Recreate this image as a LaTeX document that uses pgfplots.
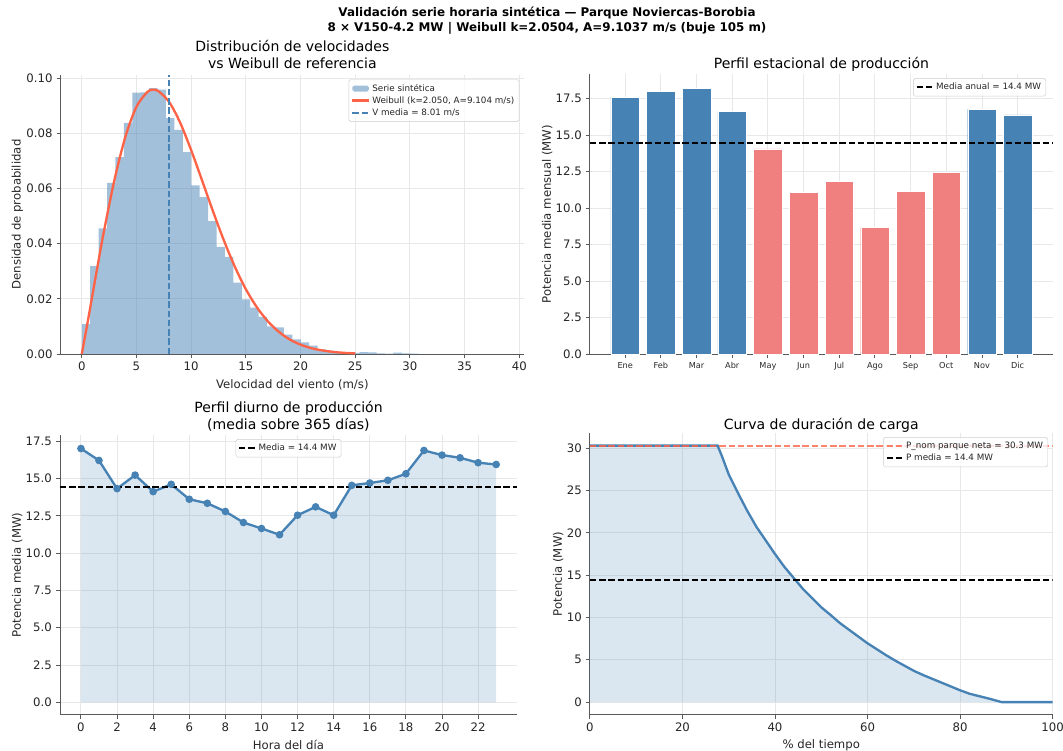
\documentclass[border=0pt]{standalone}
\usepackage{pgfplots}
\pgfplotsset{compat=1.18}
\usepackage{pgfplotstable}
\usepackage{fontspec}
\setmainfont{DejaVu Sans}

\definecolor{steel}{HTML}{4682B4}
\definecolor{lcoral}{HTML}{F08080}
\definecolor{tomatoc}{HTML}{FF6347}
\definecolor{txt}{HTML}{262626}

% histogram: left bin edges (width 0.77) and densities
\pgfplotstableread{
x y
0.00 0.0108
0.77 0.0319
1.54 0.0455
2.31 0.0620
3.08 0.0714
3.85 0.0838
4.62 0.0947
5.39 0.0948
6.16 0.0964
6.93 0.0958
7.70 0.0855
8.47 0.0812
9.24 0.0732
10.01 0.0611
10.78 0.0569
11.55 0.0482
12.32 0.0388
13.09 0.0352
13.86 0.0259
14.63 0.0198
15.40 0.0168
16.17 0.0135
16.94 0.0100
17.71 0.0097
18.48 0.0070
19.25 0.0053
20.02 0.0042
20.79 0.0030
21.56 0.0017
22.33 0.0012
23.10 0.0008
23.87 0.0006
24.64 0.0004
25.41 0.0007
26.18 0.0006
26.95 0.0002
27.72 0.0001
28.49 0.0005
29.26 0.0002
30.03 0.0001
30.80 0.0000
31.57 0.0000
32.34 0.0000
33.11 0.0000
33.88 0.0000
34.65 0.0000
35.42 0.0000
36.19 0.0000
36.96 0.0000
37.73 0.0000
38.50 0.0000
}\histdata

\pgfplotstableread{
x y
0 0
0.5 0.0107
1 0.0219
1.5 0.0331
2 0.0439
3 0.0633
4 0.0789
5 0.0896
6 0.0950
6.5 0.0958
7 0.0953
8 0.0913
9 0.0838
10 0.0739
11 0.0629
12 0.0517
13 0.0411
14 0.0316
15 0.0235
16 0.0170
17 0.0119
18 0.0081
19 0.0053
20 0.0034
21 0.0021
22 0.0013
23 0.00074
24 0.00042
25 0.00023
}\weibdata

\pgfplotstableread{
x y
0 17.61
1 18.03
2 18.23
3 16.65
10 16.77
11 16.40
}\monthblue

\pgfplotstableread{
x y
4 14.07
5 11.07
6 11.85
7 8.69
8 11.16
9 12.47
}\monthred

\pgfplotstableread{
x y
0 17.01
1 16.21
2 14.32
3 15.23
4 14.12
5 14.61
6 13.61
7 13.34
8 12.79
9 12.05
10 11.65
11 11.23
12 12.54
13 13.10
14 12.54
15 14.54
16 14.70
17 14.88
18 15.32
19 16.88
20 16.57
21 16.39
22 16.06
23 15.94
}\diurnal

\pgfplotstableread{
x y
0 30.3
27.6 30.3
28.5 29.1
30 26.9
32 24.7
34 22.6
36 20.7
38 19.1
40 17.5
42 16.0
44 14.7
46 13.4
48 12.3
50 11.2
52 10.3
54 9.35
56 8.55
58 7.75
60 6.95
62 6.25
64 5.55
66 4.9
68 4.3
70 3.7
72 3.2
74 2.75
76 2.3
78 1.85
80 1.4
82 1.0
84 0.72
86 0.45
88 0.15
89 0.0
100 0.0
}\ldc

\pgfplotsset{
  myaxis/.style={
    scale only axis, anchor=south west,
    axis lines=left,
    axis line style={-, black!65, line width=0.8pt},
    tick align=outside, major tick length=3.5pt,
    tick style={black!65, line width=0.8pt},
    grid=major, grid style={black!9, line width=0.8pt},
    ticklabel style={font=\fontsize{10}{12}\selectfont, text=txt},
    label style={font=\fontsize{10}{12}\selectfont, text=txt},
    title style={font=\fontsize{12}{14.4}\selectfont, align=center, text=black},
    ylabel shift=-4pt,
    /pgf/number format/assume math mode=true,
    scaled ticks=false,
    legend cell align=left,
    legend style={font=\fontsize{7.5}{9}\selectfont, draw=black!20, fill=white,
      fill opacity=0.8, text opacity=1, rounded corners=1.5pt,
      inner sep=2pt, row sep=-1pt, text=txt},
    legend image code/.code={\draw[#1] (0pt,0pt) -- (14pt,0pt);},
  },
}

\begin{document}
\begin{tikzpicture}
\useasboundingbox (0,0) rectangle (908.9pt,642.1pt);

\node[font=\bfseries\fontsize{10.2}{12.8}\selectfont, align=center, text=black] at (467.7pt,624.4pt)
  {Validación serie horaria sintética — Parque Noviercas-Borobia\\8 × V150-4.2 MW | Weibull k=2.0504, A=9.1037 m/s (buje 105 m)};

% ---------- top left ----------
\begin{axis}[myaxis, at={(51.9pt,339.4pt)}, width=396.1pt, height=238.5pt,
  xmin=-1.925, xmax=40.425, ymin=0, ymax=0.1011,
  xtick={0,5,10,15,20,25,30,35,40},
  ytick={0,0.02,0.04,0.06,0.08,0.10},
  yticklabel style={/pgf/number format/.cd, fixed, fixed zerofill, precision=2},
  title={Distribución de velocidades\\vs Weibull de referencia},
  title style={yshift=-4.3pt},
  xlabel={Velocidad del viento (m/s)}, ylabel={Densidad de probabilidad},
  legend style={at={(0.99,0.985)}, anchor=north east},
]
\addplot[ybar interval, fill=steel, fill opacity=0.5, draw=none,
  legend image code/.code={\fill[steel, fill opacity=0.5, draw=none] (0pt,-2.6pt) rectangle (14pt,2.6pt);}]
  table[x=x,y=y] {\histdata};
\addlegendentry{Serie sintética}
\addplot[tomatoc, line width=2pt, smooth] table[x=x,y=y] {\weibdata};
\addlegendentry{Weibull (k=2.050, A=9.104 m/s)}
\addplot[draw=steel, line width=1.6pt, dash pattern=on 5.5pt off 2.4pt] coordinates {(8.01,0) (8.01,0.1011)};
\addlegendentry{V media = 8.01 m/s}
\end{axis}

% ---------- top right ----------
\begin{axis}[myaxis, at={(504.4pt,339.4pt)}, width=395.9pt, height=239.4pt,
  xmin=-0.99, xmax=11.99, ymin=0, ymax=19.2,
  xtick={0,1,2,3,4,5,6,7,8,9,10,11},
  xticklabels={Ene,Feb,Mar,Abr,May,Jun,Jul,Ago,Sep,Oct,Nov,Dic},
  xticklabel style={font=\fontsize{7}{8}\selectfont},
  ytick={0,2.5,5,7.5,10,12.5,15,17.5},
  yticklabel style={/pgf/number format/.cd, fixed, fixed zerofill, precision=1},
  title={Perfil estacional de producción},
  title style={yshift=-7.7pt},
  ylabel={Potencia media mensual (MW)},
  legend style={at={(0.985,0.985)}, anchor=north east},
]
\addplot[ybar, bar width=0.8, bar shift=0pt, fill=steel, draw=white, line width=0.3pt, forget plot] table[x=x,y=y] {\monthblue};
\addplot[ybar, bar width=0.8, bar shift=0pt, fill=lcoral, draw=white, line width=0.3pt, forget plot] table[x=x,y=y] {\monthred};
\addplot[black, line width=1.5pt, dash pattern=on 5.5pt off 2.4pt] coordinates {(-0.99,14.45) (11.99,14.45)};
\addlegendentry{Media anual = 14.4 MW}
\end{axis}

% ---------- bottom left ----------
\begin{axis}[myaxis, at={(51.3pt,30.8pt)}, width=390.7pt, height=239.4pt,
  xmin=-1.16, xmax=24.15, ymin=-0.85, ymax=17.92,
  xtick={0,2,4,6,8,10,12,14,16,18,20,22},
  ytick={0,2.5,5,7.5,10,12.5,15,17.5},
  yticklabel style={/pgf/number format/.cd, fixed, fixed zerofill, precision=1},
  title={Perfil diurno de producción\\(media sobre 365 días)},
  title style={yshift=-6.5pt},
  xlabel={Hora del día}, ylabel={Potencia media (MW)},
  legend style={at={(0.5,0.985)}, anchor=north},
]
\addplot[fill=steel, fill opacity=0.2, draw=none, forget plot] table[x=x,y=y] {\diurnal} \closedcycle;
\addplot[steel, line width=2pt, mark=*, mark size=2.2pt, mark options={fill=steel, draw=steel}, forget plot] table[x=x,y=y] {\diurnal};
\addplot[black, line width=1.5pt, dash pattern=on 5.5pt off 2.4pt] coordinates {(-1.16,14.43) (24.15,14.43)};
\addlegendentry{Media = 14.4 MW}
\end{axis}

% ---------- bottom right ----------
\begin{axis}[myaxis, at={(504.4pt,30.8pt)}, width=395.6pt, height=241.1pt,
  xmin=0, xmax=100, ymin=-1.515, ymax=31.8,
  xtick={0,20,40,60,80,100},
  ytick={0,5,10,15,20,25,30},
  title={Curva de duración de carga},
  title style={yshift=-8.8pt},
  xlabel={\% del tiempo}, ylabel={Potencia (MW)},
  legend style={at={(0.99,0.985)}, anchor=north east},
]
\addplot[fill=steel, fill opacity=0.2, draw=none, forget plot] table[x=x,y=y] {\ldc} \closedcycle;
\addplot[steel, line width=2pt, forget plot] table[x=x,y=y] {\ldc};
\addplot[tomatoc, opacity=0.8, line width=1.5pt, dash pattern=on 5.5pt off 2.4pt] coordinates {(0,30.3) (100,30.3)};
\addlegendentry{P\_nom parque neta = 30.3 MW}
\addplot[black, line width=1.5pt, dash pattern=on 5.5pt off 2.4pt] coordinates {(0,14.4) (100,14.4)};
\addlegendentry{P media = 14.4 MW}
\end{axis}
\end{tikzpicture}
\end{document}
